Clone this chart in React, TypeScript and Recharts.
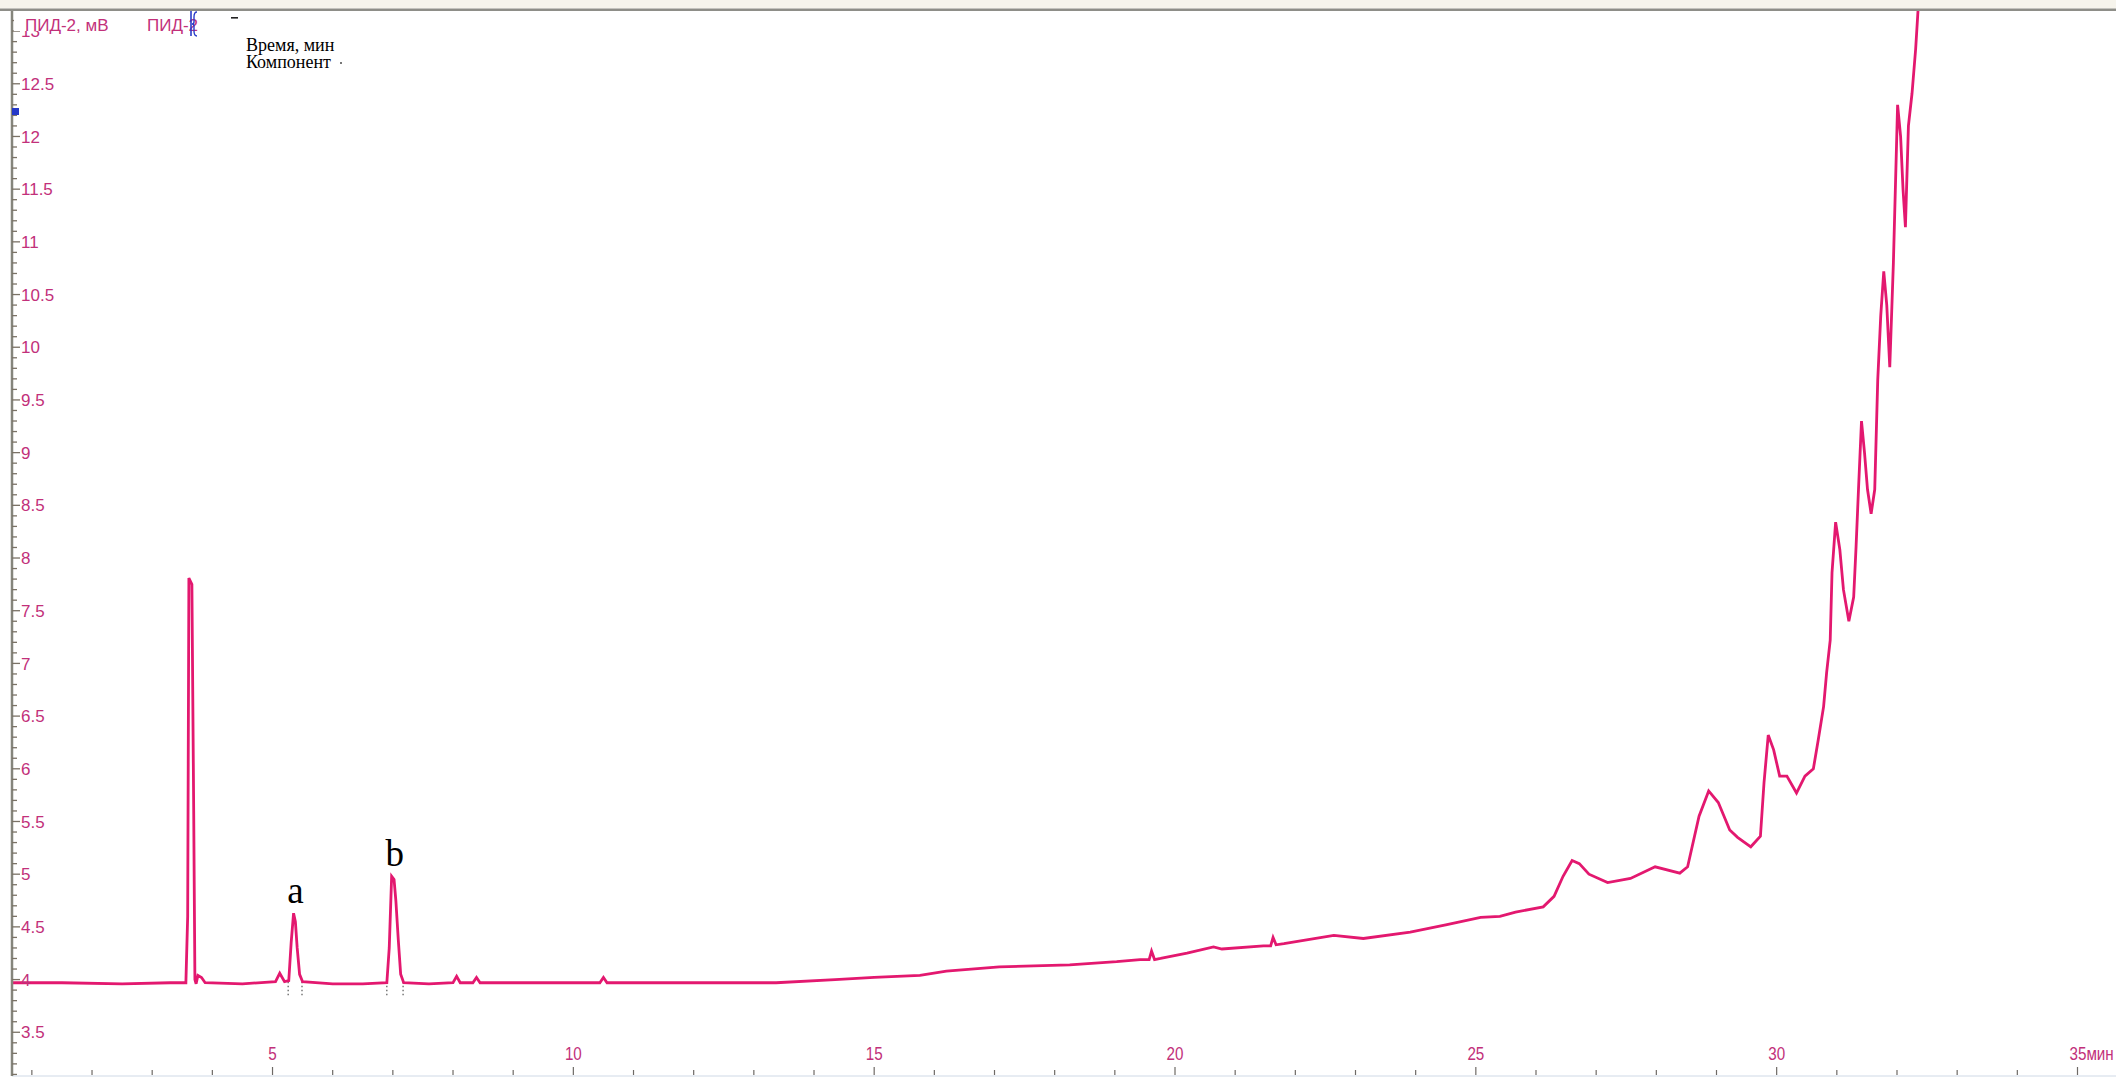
import React from 'react';
import { LineChart, Line, XAxis, YAxis, ReferenceLine, ReferenceDot } from 'recharts';

const W = 2116;
const H = 1077;
const PLOT_LEFT = 12;
const PLOT_TOP = 10;
const PLOT_BOTTOM = 1076;

const AXIS_PINK = '#c2307a';
const TRACE = '#e3186f';

// Retention time, min
const retentionTime = [
  0.67, 1.5, 2.5, 3.3, 3.56, 3.59, 3.61, 3.66, 3.69, 3.71, 3.73, 3.76, 3.82, 3.88,
  4.5, 5.05, 5.12, 5.2, 5.27, 5.31, 5.35, 5.38, 5.41, 5.45, 5.5,
  6.0, 6.5, 6.9, 6.94, 6.98, 7.02, 7.05, 7.09, 7.13, 7.18,
  7.6, 8.0, 8.06, 8.12, 8.33, 8.39, 8.45, 9.5, 10.44, 10.5, 10.56,
  11.5, 12.5, 13.37, 14.35, 15.0, 15.76, 16.2, 17.08, 18.25, 19.03, 19.42,
  19.57, 19.61, 19.66, 19.76, 20.2, 20.64, 20.78, 21.47, 21.59, 21.63, 21.68, 21.81,
  22.64, 23.13, 23.91, 24.5, 25.08, 25.4, 25.66, 26.12, 26.3, 26.45, 26.6, 26.72,
  26.88, 27.19, 27.57, 27.98, 28.39, 28.52, 28.71, 28.87, 29.03, 29.22, 29.35,
  29.57, 29.73, 29.79, 29.86, 29.95, 30.05, 30.17, 30.33, 30.47, 30.61, 30.69,
  30.78, 30.83, 30.89, 30.92, 30.98, 31.05, 31.11, 31.2, 31.28, 31.32, 31.36,
  31.41, 31.46, 31.51, 31.57, 31.63, 31.68, 31.73, 31.78, 31.83, 31.88, 31.94,
  32.01, 32.06, 32.1, 32.14, 32.19, 32.25, 32.31, 32.35, 32.4,
];

// ПИД-2 signal, mV
const pidSignal = [
  3.97, 3.97, 3.96, 3.97, 3.97, 4.6, 7.81, 7.75, 5.6, 4.0, 3.96, 4.04, 4.02, 3.97,
  3.96, 3.98, 4.06, 3.98, 3.99, 4.35, 4.63, 4.55, 4.3, 4.05, 3.98,
  3.96, 3.96, 3.97, 4.3, 4.98, 4.95, 4.75, 4.38, 4.05, 3.97,
  3.96, 3.97, 4.03, 3.97, 3.97, 4.02, 3.97, 3.97, 3.97, 4.02, 3.97,
  3.97, 3.97, 3.97, 4.0, 4.02, 4.04, 4.08, 4.12, 4.14, 4.17, 4.19,
  4.19, 4.27, 4.19, 4.2, 4.25, 4.31, 4.29, 4.32, 4.32, 4.4, 4.33, 4.34,
  4.42, 4.39, 4.45, 4.52, 4.59, 4.6, 4.64, 4.69, 4.79, 4.98, 5.13, 5.1,
  5.0, 4.92, 4.96, 5.07, 5.01, 5.07, 5.55, 5.79, 5.68, 5.42, 5.35,
  5.26, 5.36, 5.87, 6.32, 6.18, 5.93, 5.93, 5.77, 5.93, 6.0, 6.27,
  6.59, 6.91, 7.22, 7.86, 8.34, 8.08, 7.7, 7.4, 7.63, 8.11, 8.65,
  9.3, 9.0, 8.65, 8.42, 8.65, 9.69, 10.3, 10.72, 10.4, 9.81, 10.8,
  12.3, 12.0, 11.5, 11.14, 12.1, 12.41, 12.83, 13.2, 13.6,
];

const chromatogram = retentionTime.map((t, i) => ({ t, v: pidSignal[i] }));

// Named peaks
const peakNames = ['a', 'b'];
const peakTimes = [5.35, 7.0];
const peakHeights = [4.63, 4.98];

// Integration boundary marks under the named peaks
const integrationTimes = [5.26, 5.49, 6.9, 7.17];
const INTEGRATION_TOP = 3.98;
const INTEGRATION_BOTTOM = 3.85;

// Axes
const X_DOMAIN: [number, number] = [0.67, 35.64];
const Y_DOMAIN: [number, number] = [3.085, 13.2];
const xTicks = Array.from({ length: 35 }, (_, i) => i + 1);
const xLabelTicks = [5, 10, 15, 20, 25, 30, 35];
const yLabelTicks = [3.5, 4, 4.5, 5, 5.5, 6, 6.5, 7, 7.5, 8, 8.5, 9, 9.5, 10, 10.5, 11, 11.5, 12, 12.5, 13];
const yTicks = Array.from({ length: 101 }, (_, i) => Math.round((3.1 + i * 0.1) * 10) / 10);

const isMajorY = (v: number) => yLabelTicks.some((m) => Math.abs(m - v) < 1e-6);

const YTick = (props: any) => {
  const { y, payload } = props;
  const v = payload.value as number;
  const major = isMajorY(v);
  return (
    <g>
      <line x1={PLOT_LEFT} x2={PLOT_LEFT + (major ? 8 : 5)} y1={y} y2={y} stroke="#7a7266" strokeWidth={1.3} />
      {major && (
        <text
          x={PLOT_LEFT + 9}
          y={y}
          dy="0.36em"
          fill={AXIS_PINK}
          fontSize={17}
          fontFamily="'Liberation Sans', Arial, sans-serif"
        >
          {String(v)}
        </text>
      )}
    </g>
  );
};

const XTick = (props: any) => {
  const { x, payload } = props;
  const v = payload.value as number;
  const major = xLabelTicks.includes(v);
  const last = v === 35;
  return (
    <g>
      <line x1={x} x2={x} y1={PLOT_BOTTOM - (major ? 9 : 6)} y2={PLOT_BOTTOM - 1} stroke="#6e6a66" strokeWidth={1.2} />
      {major && (
        <text
          transform={`translate(${last ? x - 8 : x},1060) scale(0.8,1)`}
          textAnchor={last ? 'start' : 'middle'}
          fill={AXIS_PINK}
          fontSize={19}
          fontFamily="'Liberation Sans', Arial, sans-serif"
        >
          {last ? '35мин' : String(v)}
        </text>
      )}
    </g>
  );
};

const PeakLabel = (props: any) => {
  const { viewBox, value } = props;
  const cx = viewBox.x + (viewBox.width || 0) / 2;
  const cy = viewBox.y;
  return (
    <text
      x={cx + 2}
      y={cy - 10}
      textAnchor="middle"
      fill="#000"
      fontSize={37}
      fontFamily="'Liberation Serif', 'Times New Roman', serif"
    >
      {value}
    </text>
  );
};

export default function App() {
  return (
    <div style={{ position: 'fixed', left: 0, top: 0, width: W, height: H, background: '#fff', overflow: 'hidden' }}>
      <LineChart
        width={W}
        height={H}
        data={chromatogram}
        margin={{ top: PLOT_TOP, left: PLOT_LEFT, right: 0, bottom: H - PLOT_BOTTOM }}
      >
        <XAxis
          type="number"
          dataKey="t"
          domain={X_DOMAIN}
          allowDataOverflow
          ticks={xTicks}
          interval={0}
          mirror
          tickLine={false}
          axisLine={{ stroke: '#cfd9e6', strokeWidth: 1 }}
          tick={<XTick />}
        />
        <YAxis
          type="number"
          domain={Y_DOMAIN}
          allowDataOverflow
          ticks={yTicks}
          interval={0}
          mirror
          tickLine={false}
          axisLine={{ stroke: '#85857c', strokeWidth: 2.5 }}
          tick={<YTick />}
        />
        {integrationTimes.map((t) => (
          <ReferenceLine
            key={t}
            segment={[
              { x: t, y: INTEGRATION_TOP },
              { x: t, y: INTEGRATION_BOTTOM },
            ]}
            stroke="#555"
            strokeWidth={1.2}
            strokeDasharray="1.5 2.5"
          />
        ))}
        <Line
          type="linear"
          dataKey="v"
          stroke={TRACE}
          strokeWidth={2.8}
          dot={false}
          isAnimationActive={false}
        />
        {peakNames.map((name, i) => (
          <ReferenceDot
            key={name}
            x={peakTimes[i]}
            y={peakHeights[i]}
            r={0}
            fill="none"
            stroke="none"
            label={<PeakLabel value={name} />}
          />
        ))}
      </LineChart>
      <svg
        width={W}
        height={H}
        style={{ position: 'absolute', left: 0, top: 0, pointerEvents: 'none' }}
      >
        <rect x={0} y={0} width={W} height={8.5} fill="#f6f4ec" />
        <rect x={0} y={8.5} width={W} height={2.5} fill="#8e8e88" />
        <rect x={14} y={11} width={188} height={20} fill="#fff" />
        <text x={25} y={31} fill={AXIS_PINK} fontSize={17} fontFamily="'Liberation Sans', Arial, sans-serif">
          ПИД-2, мВ
        </text>
        <text x={147} y={31} fill={AXIS_PINK} fontSize={17} fontFamily="'Liberation Sans', Arial, sans-serif">
          ПИД-2
        </text>
        <line x1={191} x2={191} y1={11} y2={36} stroke="#2a3cc8" strokeWidth={1.6} />
        <path d="M197 12 Q194 12 194 17 L194 22 Q194 24 192 24 Q194 24 194 26 L194 31 Q194 36 197 36" fill="none" stroke="#2a3cc8" strokeWidth={1.4} />
        <rect x={231} y={17} width={7} height={1.6} fill="#222" />
        <text x={246} y={51} fill="#000" fontSize={18} fontFamily="'Liberation Serif', 'Times New Roman', serif">
          Время, мин
        </text>
        <text x={246} y={68} fill="#000" fontSize={18} fontFamily="'Liberation Serif', 'Times New Roman', serif">
          Компонент
        </text>
        <rect x={340} y={62} width={2} height={2} fill="#777" />
        <rect x={12} y={108} width={7} height={7} fill="#2438c8" />
      </svg>
    </div>
  );
}
